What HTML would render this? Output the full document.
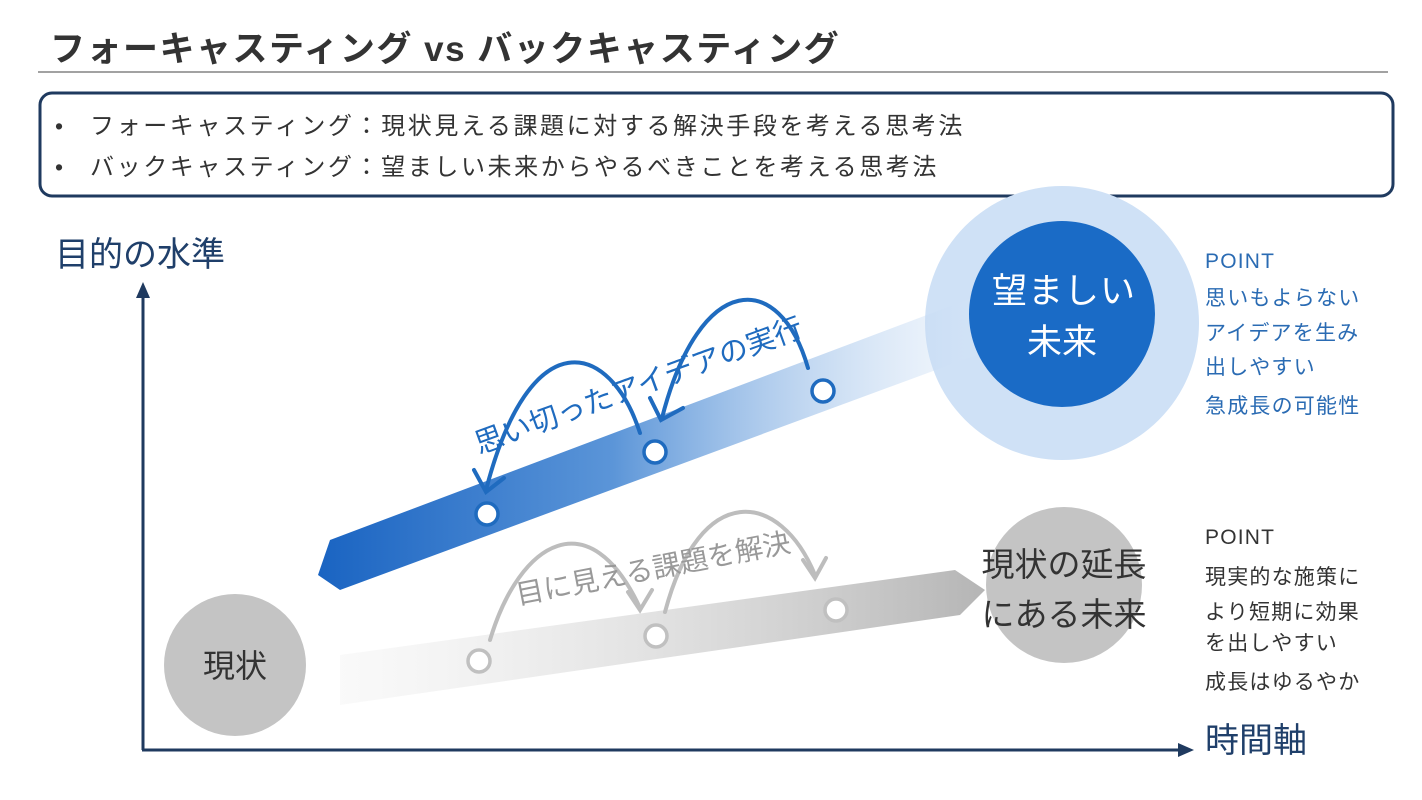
<!DOCTYPE html>
<html><head><meta charset="utf-8"><style>
html,body{margin:0;padding:0;background:#fff;}
body{width:1422px;height:800px;overflow:hidden;position:relative;font-family:"Liberation Sans","Noto Sans CJK JP",sans-serif;}
</style></head><body>
<svg width="1422" height="800" viewBox="0 0 1422 800" xmlns="http://www.w3.org/2000/svg" style="position:absolute;left:0;top:0;font-family:'Liberation Sans','Noto Sans CJK JP',sans-serif">
<defs>
<linearGradient id="bg1" x1="320" y1="0" x2="970" y2="0" gradientUnits="userSpaceOnUse">
<stop offset="0" stop-color="#1a64c2"/><stop offset="0.45" stop-color="#5b95d8"/><stop offset="1" stop-color="#d4e4f7" stop-opacity="0.3"/></linearGradient>
<linearGradient id="gg1" x1="330" y1="0" x2="990" y2="0" gradientUnits="userSpaceOnUse">
<stop offset="0" stop-color="#e6e6e6" stop-opacity="0.2"/><stop offset="1" stop-color="#b4b4b4"/></linearGradient>
</defs>
<text x="50" y="61" font-size="35" font-weight="bold" fill="#333" letter-spacing="1.5">フォーキャスティング vs バックキャスティング</text>
<line x1="38" y1="72" x2="1388" y2="72" stroke="#444" stroke-width="1"/>
<rect x="40" y="93" width="1353" height="103" rx="12" fill="#fff" stroke="#1f3a5f" stroke-width="3"/>
<text x="55" y="134" font-size="23" fill="#333">•</text>
<text x="90" y="134" font-size="24" fill="#333" letter-spacing="2.6">フォーキャスティング：現状見える課題に対する解決手段を考える思考法</text>
<text x="55" y="175" font-size="23" fill="#333">•</text>
<text x="90" y="175" font-size="24" fill="#333" letter-spacing="2.6">バックキャスティング：望ましい未来からやるべきことを考える思考法</text>

<text x="55" y="266" font-size="34" fill="#1f3f6a">目的の水準</text>
<text x="1205" y="752" font-size="34" fill="#1f3f6a">時間軸</text>
<line x1="143" y1="750" x2="143" y2="295" stroke="#1f3a5f" stroke-width="3"/>
<polygon points="143,282 136,298 150,298" fill="#1f3a5f"/>
<line x1="142" y1="750" x2="1180" y2="750" stroke="#1f3a5f" stroke-width="3"/>
<polygon points="1194,750 1178,743 1178,757" fill="#1f3a5f"/>

<circle cx="1062" cy="323" r="137" fill="#cfe1f6"/>
<polygon points="330,540 980,295 990,350 340,590 318,575" fill="url(#bg1)"/>
<circle cx="1062" cy="314" r="93" fill="#1a6bc6"/>
<text x="1064" y="303" font-size="35" fill="#fff" text-anchor="middle" letter-spacing="1">望ましい</text>
<text x="1062" y="354" font-size="35" fill="#fff" text-anchor="middle">未来</text>

<circle cx="1064" cy="585" r="78" fill="#c4c4c4"/>
<polygon points="340,655 955,570 985,590 960,615 340,705" fill="url(#gg1)"/>
<text x="1064" y="576" font-size="33" fill="#333" text-anchor="middle">現状の延長</text>
<text x="1064" y="626" font-size="33" fill="#333" text-anchor="middle">にある未来</text>
<circle cx="235" cy="665" r="71" fill="#c4c4c4"/>
<text x="235" y="677" font-size="32" fill="#333" text-anchor="middle">現状</text>

<g fill="none" stroke="#1f6bbf" stroke-width="4" stroke-linecap="round">
<path d="M640,433 C610,340 530,320 486,490"/>
<path d="M474,470 L486,492 L504,478"/>
<path d="M808,368 C780,270 700,270 662,418"/>
<path d="M650,398 L661,420 L683,408"/>
</g>
<g fill="#fff" stroke="#1f6bbf" stroke-width="3.5">
<circle cx="487" cy="514" r="11"/><circle cx="655" cy="452" r="11"/><circle cx="823" cy="391" r="11"/>
</g>
<text transform="translate(642,395) rotate(-20)" font-size="29" fill="#1f6bbf" text-anchor="middle">思い切ったアイデアの実行</text>

<g fill="none" stroke="#bdbdbd" stroke-width="4" stroke-linecap="round">
<path d="M490,640 C520,540 590,500 640,608"/>
<path d="M628,592 L640,610 L652,590"/>
<path d="M665,612 C700,480 780,490 815,575"/>
<path d="M803,560 L815,578 L826,558"/>
</g>
<g fill="#fff" stroke="#c0c0c0" stroke-width="3.5">
<circle cx="479" cy="661" r="11"/><circle cx="656" cy="636" r="11"/><circle cx="836" cy="610" r="11"/>
</g>
<text transform="translate(655,578) rotate(-11)" font-size="28" fill="#999" text-anchor="middle">目に見える課題を解決</text>

<g font-size="21" fill="#2a6bb3" letter-spacing="1.2">
<text x="1205" y="268">POINT</text>
<text x="1205" y="305">思いもよらない</text>
<text x="1205" y="340">アイデアを生み</text>
<text x="1205" y="374">出しやすい</text>
<text x="1205" y="413">急成長の可能性</text>
</g>
<g font-size="21" fill="#333" letter-spacing="1.2">
<text x="1205" y="544">POINT</text>
<text x="1205" y="584">現実的な施策に</text>
<text x="1205" y="619">より短期に効果</text>
<text x="1205" y="650">を出しやすい</text>
<text x="1205" y="689">成長はゆるやか</text>
</g>
</svg>
</body></html>
